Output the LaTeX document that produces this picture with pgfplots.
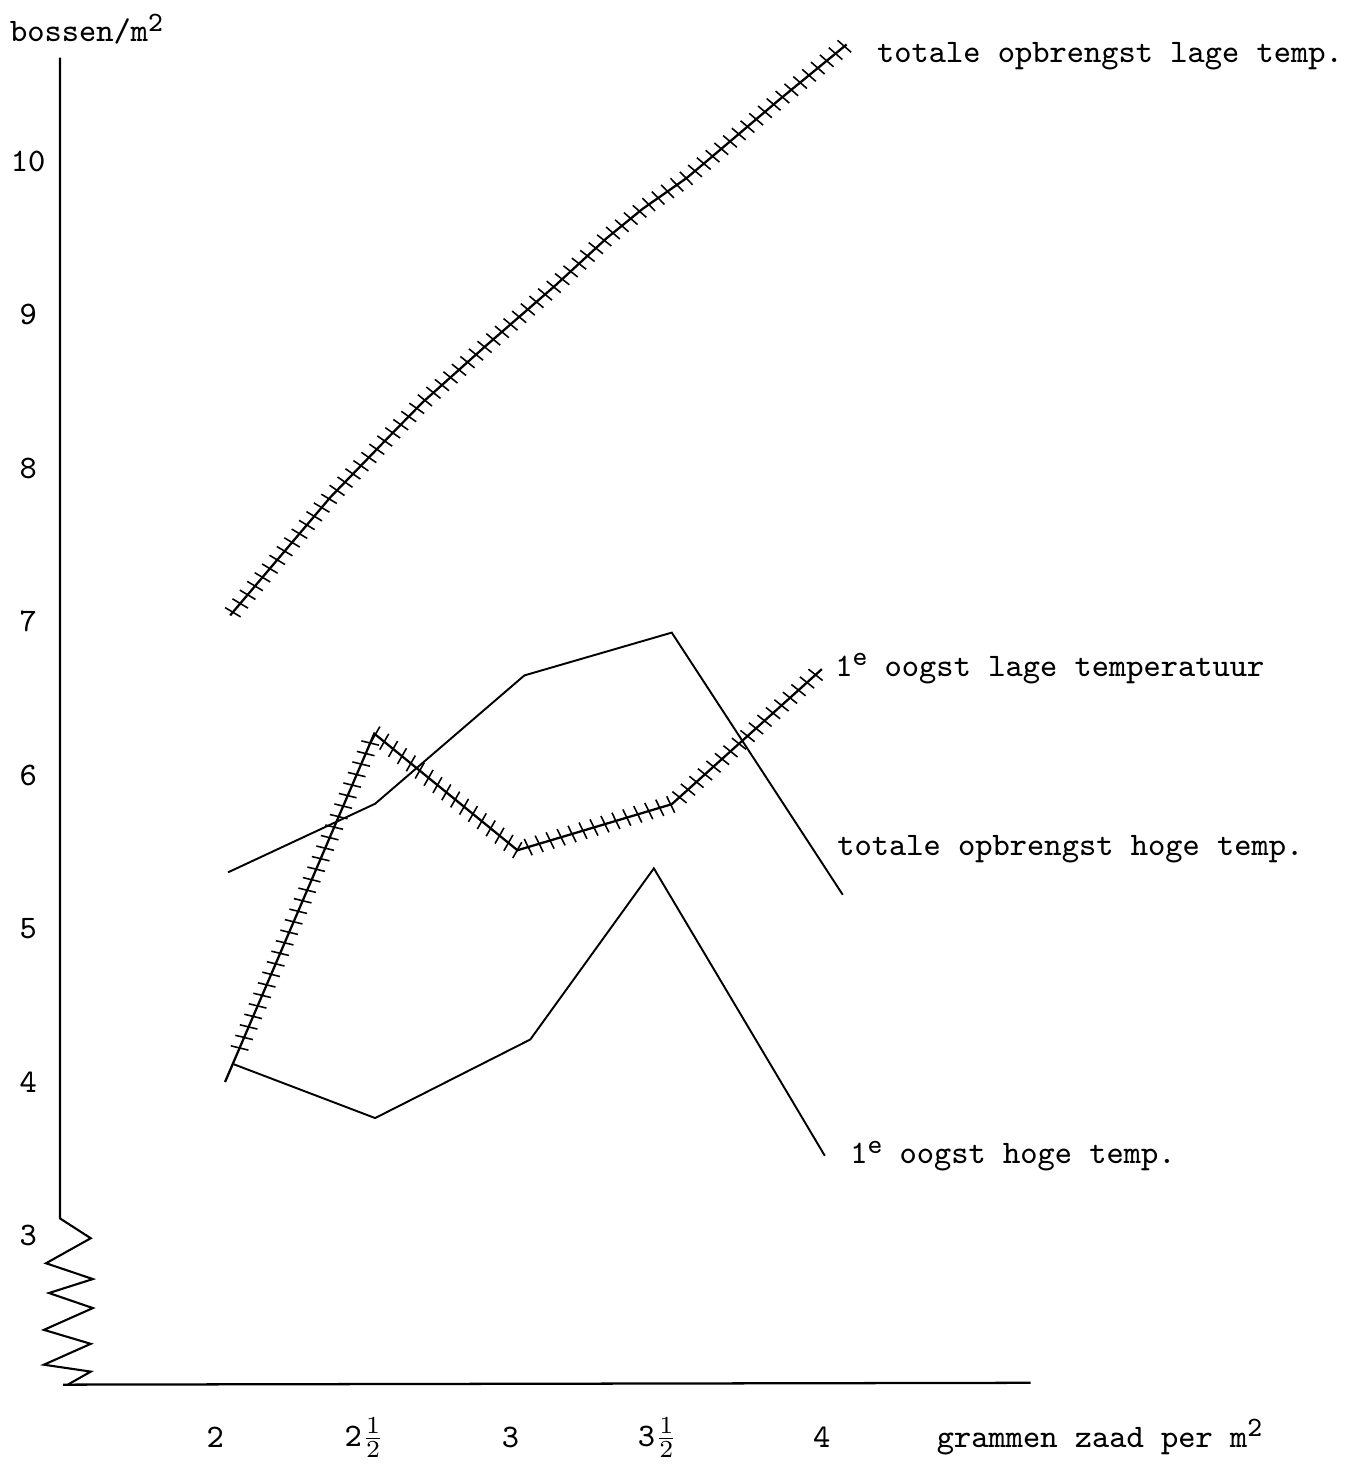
\documentclass[border=0pt]{standalone}
\usepackage{pgfplots}
\pgfplotsset{compat=1.18}
\usetikzlibrary{decorations.markings}
\renewcommand{\familydefault}{\ttdefault}
\newcommand{\supr}[1]{\raisebox{0.75ex}{\fontsize{8}{8}\selectfont #1}}
\tikzset{
  hatched/.style={black, line width=0.65pt, postaction={decorate},
    decoration={markings, mark=between positions #1 and 1 step 1.15mm with {\draw[line width=0.45pt] (0.15mm,-0.9mm) -- (-0.15mm,0.9mm);}}},
  hatched/.default=0.005,
  lbl/.style={font=\fontsize{9.4}{11}\selectfont\ttfamily, anchor=base west, inner sep=0pt}
}
\begin{document}
\fontsize{9.4}{11}\selectfont
\begin{tikzpicture}
\begin{axis}[
  disabledatascaling,
  x=30mm, y=15.43mm,
  xmin=1.437, xmax=4.69, ymin=2.028, ymax=10.674,
  axis line style={draw=none},
  tick style={draw=none},
  major tick length=0pt,
  clip=false,
  xtick={1.957,2.457,2.947,3.44,3.99},
  xticklabels={2, 2$\frac{1}{2}$, 3, 3$\frac{1}{2}$, 4},
  ytick={3,4,5,6,7,8,9,10},
  xticklabel style={anchor=center, yshift=-5.3mm},
  yticklabel style={anchor=center, xshift=-3.2mm},
  /pgf/number format/assume math mode=true,
  tick label style={font=\fontsize{9.4}{11}\selectfont\ttfamily},
]
% invisible frame giving the picture its size
\path (axis cs:1.24,1.536) rectangle (axis cs:5.75,11.05);
% axes with zigzag break
\draw[line width=0.6pt] (axis cs:1.437,10.674) -- (axis cs:1.437,3.111)
  -- (axis cs:1.54,2.982) -- (axis cs:1.39,2.819) -- (axis cs:1.547,2.716)
  -- (axis cs:1.40,2.625) -- (axis cs:1.547,2.527) -- (axis cs:1.383,2.385)
  -- (axis cs:1.54,2.294) -- (axis cs:1.383,2.158) -- (axis cs:1.54,2.113)
  -- (axis cs:1.463,2.028);
\draw[line width=0.65pt] (axis cs:1.447,2.028) -- (axis cs:4.69,2.04);

% totale opbrengst lage temp.
\addplot[hatched] coordinates {
 (2.007,7.04) (2.343,7.81) (2.537,8.20) (2.653,8.43) (2.86,8.79)
 (3.097,9.19) (3.27,9.50) (3.39,9.69) (3.537,9.89) (3.653,10.08)
 (3.847,10.40) (4.073,10.76)};
% 1e oogst lage temperatuur
\addplot[hatched=0.04] coordinates {
 (1.99,4.0) (2.49,6.27) (2.97,5.51) (3.487,5.81) (3.99,6.69)};
% totale opbrengst hoge temp.
\addplot[black, line width=0.55pt] coordinates {
 (2.0,5.366) (2.493,5.813) (2.993,6.649) (3.487,6.928) (4.06,5.22)};
% 1e oogst hoge temp.
\addplot[black, line width=0.55pt] coordinates {
 (2.02,4.115) (2.493,3.765) (3.013,4.277) (3.427,5.392) (4.0,3.519)};

\node[lbl] at (axis cs:1.267,10.778) {bossen/m\supr{2}};
\node[lbl] at (axis cs:4.173,10.642) {totale opbrengst lage temp.};
\node[lbl] at (axis cs:4.033,6.643) {1\supr{e} oogst lage temperatuur};
\node[lbl] at (axis cs:4.04,5.476) {totale opbrengst hoge temp.};
\node[lbl] at (axis cs:4.083,3.467) {1\supr{e} oogst hoge temp.};
\node[lbl] at (axis cs:4.373,1.62) {grammen zaad per m\supr{2}};
\end{axis}
\end{tikzpicture}
\end{document}
